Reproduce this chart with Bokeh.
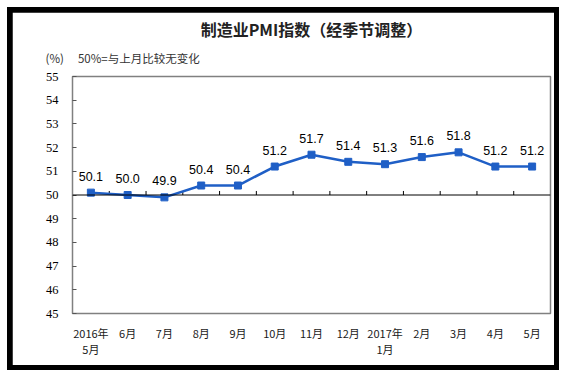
from bokeh.plotting import figure
from bokeh.models import ColumnDataSource, FixedTicker, Span, LabelSet, Title
from bokeh.layouts import column
from bokeh.core.properties import value
from bokeh.embed import file_html
from bokeh.resources import INLINE

# ---- data ----
months = ["2016年\n5月", "6月", "7月", "8月", "9月", "10月", "11月", "12月",
          "2017年\n1月", "2月", "3月", "4月", "5月"]
pmi = [50.1, 50.0, 49.9, 50.4, 50.4, 51.2, 51.7, 51.4, 51.3, 51.6, 51.8, 51.2, 51.2]
y_ticks = [45, 46, 47, 48, 49, 50, 51, 52, 53, 54, 55]
baseline = 50
title_text = "制造业PMI指数（经季节调整）"
note_text = "(%)\u3000   50%=与上月比较无变化"

xs = list(range(len(months)))
labels = [f"{v:.1f}" for v in pmi]
src = ColumnDataSource(dict(x=xs, y=pmi, lab=labels))

BLUE = "#1f5fc6"
CJK = "Noto Sans CJK SC"

p = figure(width=542, height=353, output_backend="svg", toolbar_location=None,
           x_range=(-0.5, len(months) - 0.5), y_range=(y_ticks[0], y_ticks[-1]),
           min_border_left=60, min_border_right=4, min_border_top=64, min_border_bottom=52)
p.margin = (5, 5, 5, 5)
p.background_fill_color = "white"
p.border_fill_color = "white"
p.outline_line_color = "#808080"
p.outline_line_width = 1.5
p.xgrid.visible = False
p.ygrid.visible = False

# y axis
p.yaxis.ticker = FixedTicker(ticks=y_ticks)
p.yaxis.major_tick_in = 4
p.yaxis.major_tick_out = 0
p.yaxis.minor_tick_line_color = None
p.yaxis.axis_line_color = "#808080"
p.yaxis.major_tick_line_color = "#555555"
p.yaxis.major_label_text_font = "Liberation Serif"
p.yaxis.major_label_text_font_size = "12.5px"
p.yaxis.major_label_text_color = "black"
p.yaxis.major_label_standoff = 14

# x axis
p.xaxis.ticker = FixedTicker(ticks=xs)
p.xaxis.major_label_overrides = {i: m for i, m in zip(xs, months)}
p.xaxis.axis_line_color = None
p.xaxis.major_tick_line_color = None
p.xaxis.minor_tick_line_color = None
p.xaxis.major_label_text_font = CJK
p.xaxis.major_label_text_font_size = "11px"
p.xaxis.major_label_text_line_height = 1.0
p.xaxis.major_label_text_color = "#1a1a1a"
p.xaxis.major_label_standoff = 5

# 50 baseline and category boundary ticks
p.add_layout(Span(location=baseline, dimension="width", line_color="black", line_width=1))
bx = [i + 0.5 for i in xs[:-1]]
p.segment(x0=bx, x1=bx, y0=[baseline] * len(bx), y1=[baseline + 0.17] * len(bx),
          line_color="black", line_width=1)

# series
p.line("x", "y", source=src, line_color=BLUE, line_width=2.5)
p.scatter("x", "y", source=src, marker="square", size=7, fill_color=BLUE, line_color=BLUE)
p.add_layout(LabelSet(x="x", y="y", text="lab", source=src, y_offset=12,
                      text_align="center", text_baseline="alphabetic",
                      text_font=value("Liberation Sans"), text_font_size=value("12.5px"),
                      text_color="black"))

# texts (first added sits nearest the frame)
p.add_layout(Title(text=note_text, align="left", offset=-27, standoff=21,
                   text_font=CJK, text_font_size="11.5px", text_font_style="normal",
                   text_color="#333333"), "above")
p.add_layout(Title(text=title_text, align="center", offset=-22, standoff=-7,
                   text_font=CJK, text_font_size="16px", text_font_style="bold",
                   text_color="#222222"), "above")

layout = column(p, styles={"background-color": "black"})
layout.margin = (7, 0, 0, 7)

open("out.html", "w").write(file_html(layout, INLINE))
